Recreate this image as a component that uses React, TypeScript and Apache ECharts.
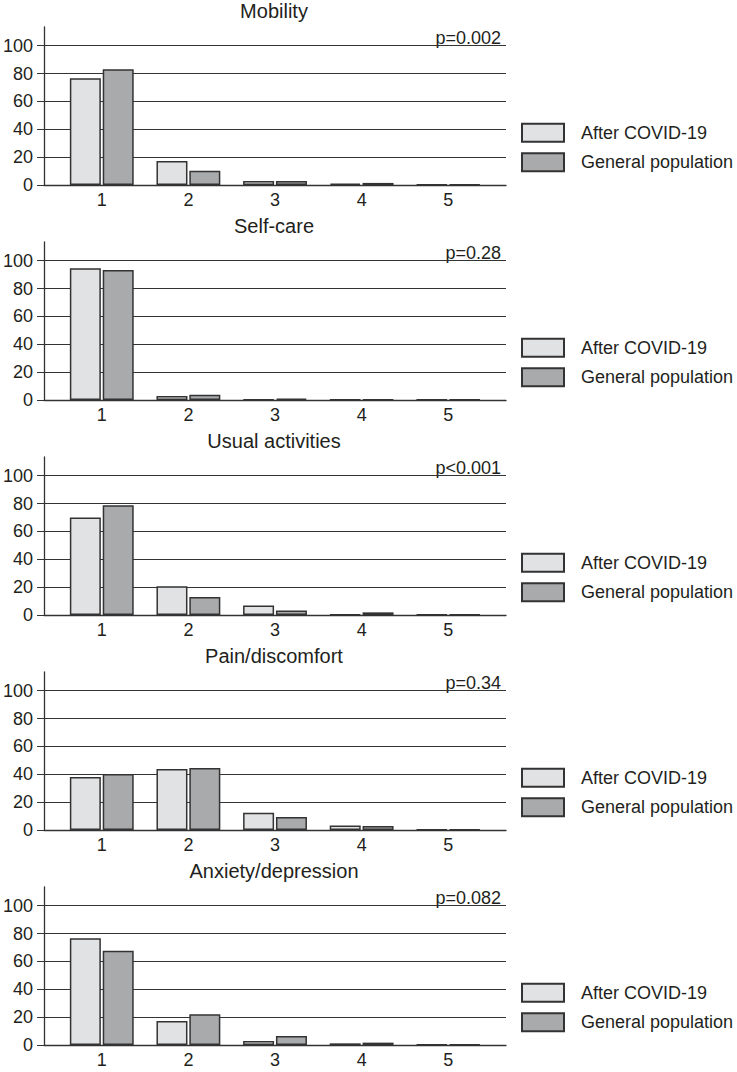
import React, { useEffect, useRef } from 'react';
import * as echarts from 'echarts';

const categories = [1, 2, 3, 4, 5];
const seriesNames = ['After COVID-19', 'General population'];
const panelTitles = ['Mobility', 'Self-care', 'Usual activities', 'Pain/discomfort', 'Anxiety/depression'];
const pValues = ['p=0.002', 'p=0.28', 'p<0.001', 'p=0.34', 'p=0.082'];
const yTicks = [0, 20, 40, 60, 80, 100];

const afterCovid = [
  [76.7, 17.3, 2.9, 1.0, 0.3],
  [94.5, 2.9, 0.3, 0.2, 0.2],
  [69.9, 20.6, 6.9, 0.4, 0.3],
  [38.0, 43.8, 12.4, 3.3, 0.3],
  [76.6, 17.2, 2.9, 1.2, 0.3],
];
const generalPopulation = [
  [83.0, 10.3, 2.9, 1.5, 0.4],
  [93.3, 3.8, 0.9, 0.2, 0.3],
  [78.7, 12.9, 3.3, 1.9, 0.3],
  [40.2, 44.5, 9.3, 2.9, 0.4],
  [67.7, 22.0, 6.5, 1.7, 0.4],
];

const FONT = '"Liberation Sans", Arial, Helvetica, sans-serif';
const TXT = '#231f20';
const LINE = '#333333';
const COLORS = ['#e1e2e4', '#a9aaac'];

export default function App() {
  const ref = useRef<HTMLDivElement>(null);
  useEffect(() => {
    document.body.style.margin = '0';
    if (!ref.current) return;
    const chart = echarts.init(ref.current, null, { renderer: 'svg' });
    const grids: any[] = [];
    const xAxes: any[] = [];
    const yAxes: any[] = [];
    const series: any[] = [];
    const legends: any[] = [];
    const graphics: any[] = [];
    const left = 42;
    const width = 464;
    const height = 158;
    panelTitles.forEach((title, i) => {
      const base = 185 + 215 * i;
      grids.push({ left, top: base - height, width, height });
      xAxes.push({
        type: 'value',
        gridIndex: i,
        min: 1 / 3,
        max: 17 / 3,
        axisLine: { show: true, lineStyle: { color: LINE, width: 1.3 } },
        axisTick: { show: false },
        splitLine: { show: false },
        axisLabel: { customValues: categories, margin: 6, fontSize: 18, color: TXT, fontFamily: FONT },
      });
      yAxes.push({
        type: 'value',
        gridIndex: i,
        min: 0,
        max: 113.4,
        axisLine: { show: true, lineStyle: { color: LINE, width: 1.3 } },
        axisTick: { show: true, length: 7, customValues: yTicks, lineStyle: { color: LINE, width: 1 } },
        axisLabel: { customValues: yTicks, margin: 11, fontSize: 18, color: TXT, fontFamily: FONT },
        splitLine: { show: true, lineStyle: { color: LINE, width: 1 } },
      });
      [afterCovid[i], generalPopulation[i]].forEach((vals, s) => {
        series.push({
          type: 'bar',
          name: seriesNames[s],
          xAxisIndex: i,
          yAxisIndex: i,
          barWidth: 31,
          barGap: '6%',
          itemStyle: { color: COLORS[s], borderColor: LINE, borderWidth: 1.5 },
          data: categories.map((c, j) => [c, vals[j]]),
        });
      });
      legends.push({
        data: seriesNames,
        orient: 'vertical',
        left: 521,
        top: base - 62.3,
        padding: 0,
        itemWidth: 42,
        itemHeight: 18,
        itemGap: 9.5,
        icon: 'rect',
        selectedMode: false,
        textStyle: { fontSize: 18, color: TXT, fontFamily: FONT, padding: [0, 0, 0, 12] },
      });
      graphics.push({
        type: 'text',
        x: 274,
        y: base - 174,
        style: { text: title, font: `20px ${FONT}`, fill: TXT, textAlign: 'center', textVerticalAlign: 'middle' },
      });
      graphics.push({
        type: 'text',
        x: 501,
        y: base - 147,
        style: { text: pValues[i], font: `18px ${FONT}`, fill: TXT, textAlign: 'right', textVerticalAlign: 'middle' },
      });
    });
    chart.setOption({
      animation: false,
      backgroundColor: '#ffffff',
      grid: grids,
      xAxis: xAxes,
      yAxis: yAxes,
      series,
      legend: legends,
      graphic: graphics,
    });
    return () => chart.dispose();
  }, []);
  return <div ref={ref} style={{ width: 737, height: 1072 }} />;
}
